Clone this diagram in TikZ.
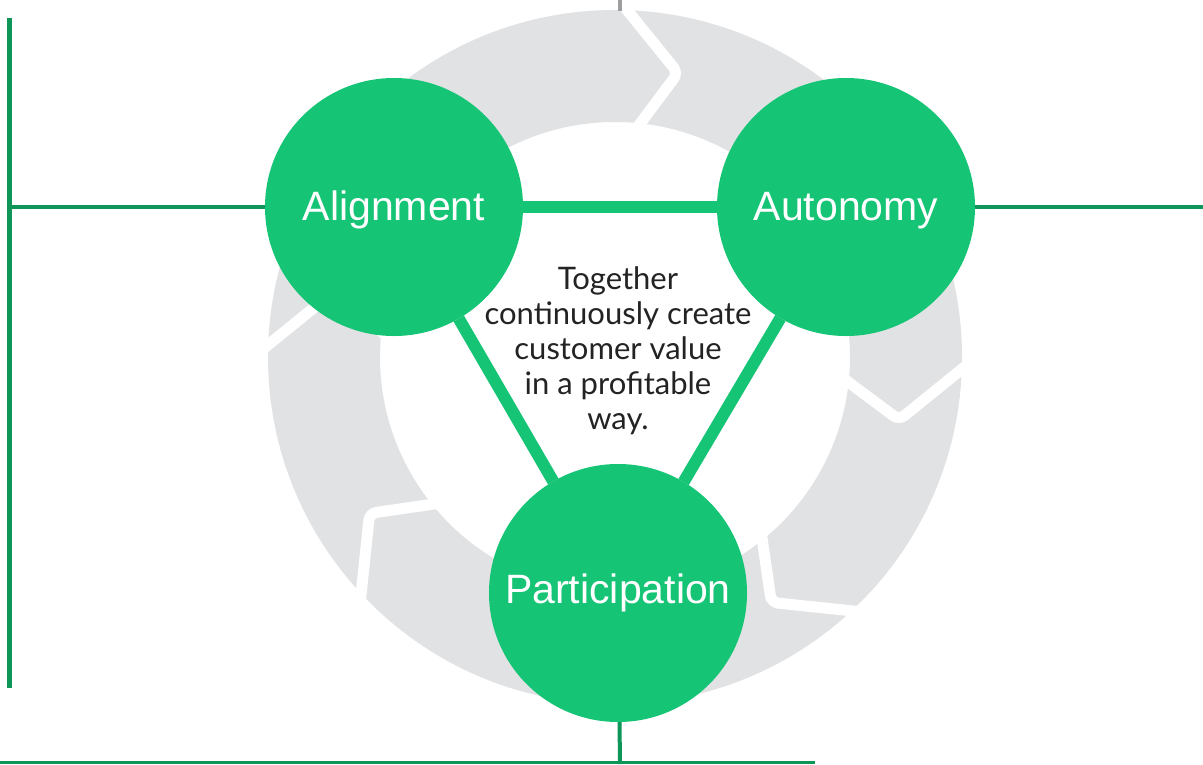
\documentclass[tikz,border=0pt]{standalone}
\usepackage{fontspec}
\setmainfont{Liberation Sans}
\newfontfamily\bodyfont{Lato}
\usetikzlibrary{calc}
\definecolor{ringgray}{RGB}{225,226,228}
\definecolor{leafgreen}{RGB}{21,196,116}
\definecolor{framegreen}{RGB}{13,150,88}
\definecolor{tickgray}{RGB}{158,158,158}
\definecolor{textdark}{RGB}{35,35,35}

\begin{document}
\begin{tikzpicture}[x=1pt,y=-1pt,
  pillar/.style={circle, fill=leafgreen, minimum size=258pt, inner sep=0pt,
    outer sep=0pt, text=white, font=\fontsize{41}{49}\selectfont},
  lowtext/.style={text height=36pt, text depth=10pt},
  tie/.style={draw=leafgreen, line width=12pt},
  frame/.style={draw=framegreen, line width=4pt},
  seam/.style={draw=white, line width=11pt, rounded corners=7pt, line cap=butt}]
\useasboundingbox[fill=white] (0,0) rectangle (1203,764);

% segmented cycle ring: eight clockwise arrow pieces
\begin{scope}[shift={(615,357)}, yscale=-1]
  \fill[ringgray, even odd rule] (0,0) circle[radius=347] (0,0) circle[radius=235];
  \foreach \a in {87.5,42.5,...,-227.5}
    \draw[seam] ({\a+2}:358) -- ({\a-10}:291) -- ({\a-2}:224);
\end{scope}

% the three pillars
\node[pillar, lowtext] (al) at (394,207) {Alignment};
\node[pillar, lowtext] (au) at (846,207) {Autonomy};
\node[pillar] (pa) at (618,593) {Participation};

% triangle joining the pillars
\draw[tie] (al) -- (au);
\draw[tie] (au) -- (pa);
\draw[tie] (pa) -- (al);

% central statement
\node[font=\bodyfont\fontsize{31}{35}\selectfont, text=textdark, align=center,
  inner sep=0pt] (motto) at (618,351)
  {Together\\continuously create\\customer value\\in a profitable\\way.};

% frame lines
\coordinate (lt) at (9,18);
\coordinate (lb) at (9,688);
\coordinate (lm) at (9,207);
\coordinate (re) at (1203,207);
\coordinate (bl) at (0,762.5);
\coordinate (br) at (815,762.5);
\coordinate (pb) at (620,764);
\coordinate (tt) at (620,0);
\coordinate (tb) at (620,11);
\draw[frame, line width=5pt] (lt) -- (lb);
\draw[frame] (lm) -- (al);
\draw[frame] (au) -- (re);
\draw[frame, line width=3pt] (bl) -- (br);
\draw[frame] (pa) -- (pb);
\draw[tickgray, line width=4pt] (tt) -- (tb);
\end{tikzpicture}
\end{document}
